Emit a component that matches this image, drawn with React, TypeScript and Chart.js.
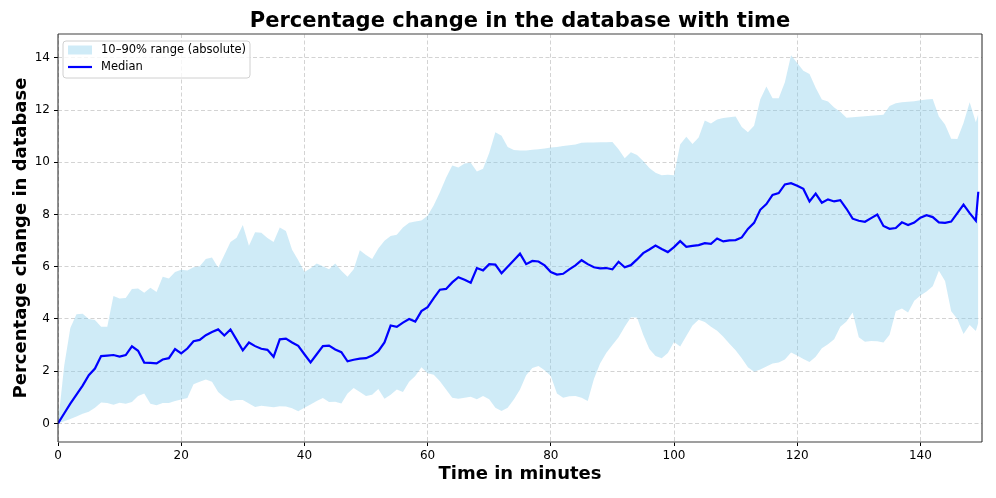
import React, { useEffect, useRef } from 'react';
import { Chart, registerables } from 'chart.js';

Chart.register(...registerables);

const chartTitle = 'Percentage change in the database with time';
const xAxisTitle = 'Time in minutes';
const yAxisTitle = 'Percentage change in database';
const bandLabel = '10–90% range (absolute)';
const medianLabel = 'Median';

const xTicks = [0, 20, 40, 60, 80, 100, 120, 140];
const yTicks = [0, 2, 4, 6, 8, 10, 12, 14];

const timeMinutes = [
  0, 1, 2, 3, 4, 5, 6, 7, 8, 9,
  10, 11, 12, 13, 14, 15, 16, 17, 18, 19,
  20, 21, 22, 23, 24, 25, 26, 27, 28, 29,
  30, 31, 32, 33, 34, 35, 36, 37, 38, 39,
  40, 41, 42, 43, 44, 45, 46, 47, 48, 49,
  50, 51, 52, 53, 54, 55, 56, 57, 58, 59,
  60, 61, 62, 63, 64, 65, 66, 67, 68, 69,
  70, 71, 72, 73, 74, 75, 76, 77, 78, 79,
  80, 81, 82, 83, 84, 85, 86, 87, 88, 89,
  90, 91, 92, 93, 94, 95, 96, 97, 98, 99,
  100, 101, 102, 103, 104, 105, 106, 107, 108, 109,
  110, 111, 112, 113, 114, 115, 116, 117, 118, 119,
  120, 121, 122, 123, 124, 125, 126, 127, 128, 129,
  130, 131, 132, 133, 134, 135, 136, 137, 138, 139,
  140, 141, 142, 143, 144, 145, 146, 147, 148, 149,
  149.4,
];

const medianValues = [
  0, 0.38, 0.76, 1.1, 1.45, 1.85, 2.1, 2.58, 2.6, 2.62,
  2.56, 2.62, 2.95, 2.78, 2.33, 2.32, 2.3, 2.45, 2.5, 2.85,
  2.68, 2.87, 3.15, 3.2, 3.38, 3.5, 3.6, 3.37, 3.6, 3.2,
  2.8, 3.1, 2.96, 2.86, 2.82, 2.55, 3.22, 3.25, 3.1, 2.97,
  2.65, 2.34, 2.65, 2.96, 2.98, 2.83, 2.73, 2.38, 2.44, 2.48,
  2.5, 2.6, 2.77, 3.1, 3.75, 3.7, 3.86, 4.0, 3.9, 4.3,
  4.45, 4.8, 5.12, 5.15, 5.4, 5.6, 5.5, 5.39, 5.95, 5.86,
  6.1, 6.08, 5.75, 6.0, 6.25, 6.5, 6.1, 6.22, 6.2, 6.05,
  5.8, 5.7, 5.73, 5.9, 6.05, 6.25, 6.1, 5.98, 5.94, 5.95,
  5.9, 6.19, 5.98, 6.06, 6.28, 6.52, 6.66, 6.81, 6.68, 6.56,
  6.75, 6.98, 6.76, 6.8, 6.83, 6.9, 6.88, 7.08, 6.97, 7.01,
  7.02, 7.12, 7.45, 7.68, 8.18, 8.4, 8.75, 8.82, 9.15, 9.2,
  9.1, 8.98, 8.5, 8.8, 8.45, 8.58, 8.5, 8.55, 8.22, 7.84,
  7.76, 7.72, 7.86, 8.0, 7.56, 7.45, 7.48, 7.7, 7.6, 7.69,
  7.88, 7.97, 7.9, 7.7, 7.68, 7.73, 8.05, 8.38, 8.05, 7.76,
  8.87,
];

const upperValues = [
  0, 2.2, 3.65, 4.18, 4.2, 4.0, 3.96, 3.7, 3.7, 4.88,
  4.78, 4.8, 5.15, 5.17, 5.0, 5.2, 5.03, 5.62, 5.55, 5.8,
  5.88, 5.86, 5.98, 6.02, 6.3, 6.35, 5.96, 6.45, 6.95, 7.11,
  7.6, 6.8, 7.32, 7.3, 7.1, 6.95, 7.5, 7.37, 6.65, 6.25,
  5.8, 5.94, 6.12, 6.02, 5.9, 6.12, 5.85, 5.62, 5.9, 6.63,
  6.45, 6.3, 6.7, 6.99, 7.18, 7.22, 7.5, 7.68, 7.73, 7.77,
  7.95, 8.35, 8.85, 9.41, 9.88, 9.8, 9.95, 9.98, 9.65, 9.75,
  10.35, 11.15, 11.01, 10.58, 10.47, 10.45, 10.45, 10.48, 10.5, 10.53,
  10.56, 10.58, 10.62, 10.65, 10.68, 10.75, 10.76, 10.76, 10.77, 10.77,
  10.78, 10.5, 10.15, 10.38, 10.28, 10.05, 9.78, 9.6, 9.5, 9.52,
  9.5, 10.68, 10.98, 10.7, 10.95, 11.6, 11.48, 11.64, 11.69, 11.72,
  11.75, 11.35, 11.15, 11.4, 12.4, 12.9, 12.45, 12.45, 13.06, 14.1,
  13.8, 13.5, 13.38, 12.85, 12.4, 12.33, 12.1, 11.93, 11.7, 11.72,
  11.74, 11.76, 11.78, 11.8, 11.82, 12.15, 12.26, 12.3, 12.32, 12.34,
  12.37, 12.4, 12.42, 11.75, 11.45, 10.9, 10.89, 11.5, 12.3, 11.53,
  11.85,
];

const lowerValues = [
  0, 0.08, 0.17, 0.27, 0.37, 0.45, 0.6, 0.8, 0.78, 0.72,
  0.79, 0.75, 0.82, 1.05, 1.15, 0.75, 0.7, 0.78, 0.78, 0.86,
  0.92, 0.97, 1.5, 1.6, 1.68, 1.6, 1.2, 1.0, 0.86, 0.9,
  0.9, 0.76, 0.63, 0.68, 0.65, 0.62, 0.66, 0.65, 0.58, 0.47,
  0.6, 0.73, 0.86, 0.97, 0.82, 0.83, 0.76, 1.15, 1.36, 1.2,
  1.05, 1.1, 1.32, 0.95, 1.1, 1.3, 1.2, 1.6, 1.82, 2.15,
  1.92, 1.86, 1.62, 1.3, 0.98, 0.95, 0.98, 1.02, 0.93, 1.05,
  0.93, 0.6, 0.48, 0.6, 0.92, 1.3, 1.85, 2.12, 2.2, 2.04,
  1.82, 1.15, 0.98, 1.04, 1.05, 0.98, 0.86, 1.7, 2.3, 2.7,
  3.0, 3.3, 3.7, 4.07, 4.06, 3.4, 2.85, 2.58, 2.5, 2.7,
  3.12, 2.95, 3.35, 3.75, 3.97, 3.88, 3.7, 3.55, 3.32, 3.05,
  2.8, 2.5, 2.15, 1.98, 2.07, 2.18, 2.3, 2.33, 2.45, 2.72,
  2.6, 2.47, 2.35, 2.55, 2.88, 3.03, 3.22, 3.7, 3.9, 4.25,
  3.3, 3.13, 3.16, 3.15, 3.1, 3.4, 4.3, 4.4, 4.25, 4.7,
  4.9, 5.05, 5.25, 5.85, 5.45, 4.3, 4.0, 3.42, 3.77, 3.54,
  3.86,
];

const FONT = "'DejaVu Sans', sans-serif";
const BAND_COLOR = 'rgba(135,206,235,0.4)';
const MEDIAN_COLOR = '#0000ff';
const GRID_COLOR = 'rgba(176,176,176,0.7)';

const spinePlugin = {
  id: 'spines',
  afterDatasetsDraw(chart: any) {
    const { ctx, chartArea } = chart;
    const { left, right, top, bottom } = chartArea;
    ctx.save();
    ctx.strokeStyle = '#808080';
    ctx.lineWidth = 1.6;
    ctx.beginPath();
    ctx.moveTo(left, top);
    ctx.lineTo(right, top);
    ctx.moveTo(left, bottom);
    ctx.lineTo(right, bottom);
    ctx.stroke();
    ctx.strokeStyle = '#222222';
    ctx.lineWidth = 1;
    ctx.beginPath();
    ctx.moveTo(left, top);
    ctx.lineTo(left, bottom);
    ctx.moveTo(right, top);
    ctx.lineTo(right, bottom);
    ctx.stroke();
    ctx.restore();
  },
};

const legendPlugin = {
  id: 'insideLegend',
  afterDraw(chart: any) {
    const { ctx, chartArea } = chart;
    const ds = chart.data.datasets;
    const x0 = chartArea.left + 5;
    const y0 = chartArea.top + 7;
    const w = 187;
    const h = 37;
    ctx.save();
    ctx.beginPath();
    if (ctx.roundRect) ctx.roundRect(x0, y0, w, h, 3);
    else ctx.rect(x0, y0, w, h);
    ctx.fillStyle = 'rgba(255,255,255,0.8)';
    ctx.fill();
    ctx.strokeStyle = '#d0d0d0';
    ctx.lineWidth = 1;
    ctx.stroke();

    ctx.fillStyle = BAND_COLOR;
    ctx.fillRect(x0 + 5, y0 + 4.5, 24, 9);
    ctx.fillStyle = '#000';
    ctx.font = `11.5px ${FONT}`;
    ctx.textBaseline = 'middle';
    ctx.textAlign = 'left';
    ctx.fillText(ds[2].label, x0 + 38, y0 + 9.5);

    ctx.strokeStyle = MEDIAN_COLOR;
    ctx.lineWidth = 2.2;
    ctx.beginPath();
    ctx.moveTo(x0 + 5, y0 + 26);
    ctx.lineTo(x0 + 29, y0 + 26);
    ctx.stroke();
    ctx.fillStyle = '#000';
    ctx.fillText(ds[0].label, x0 + 38, y0 + 26.5);
    ctx.restore();
  },
};

export default function App() {
  const canvasRef = useRef<HTMLCanvasElement | null>(null);

  useEffect(() => {
    const canvas = canvasRef.current;
    if (!canvas) return;

    const medianPts = timeMinutes.map((t, i) => ({ x: t, y: medianValues[i] }));
    const lowerPts = timeMinutes.map((t, i) => ({ x: t, y: lowerValues[i] }));
    const upperPts = timeMinutes.map((t, i) => ({ x: t, y: upperValues[i] }));

    const chart = new Chart(canvas, {
      type: 'line',
      data: {
        datasets: [
          {
            label: medianLabel,
            data: medianPts,
            borderColor: MEDIAN_COLOR,
            borderWidth: 2.2,
            pointRadius: 0,
            tension: 0,
            fill: false,
          },
          {
            label: '10% quantile',
            data: lowerPts,
            borderWidth: 0,
            borderColor: 'rgba(0,0,0,0)',
            pointRadius: 0,
            tension: 0,
            fill: false,
          },
          {
            label: bandLabel,
            data: upperPts,
            borderWidth: 0,
            borderColor: 'rgba(0,0,0,0)',
            backgroundColor: BAND_COLOR,
            pointRadius: 0,
            tension: 0,
            fill: '-1',
          },
        ],
      },
      options: {
        animation: false,
        responsive: false,
        devicePixelRatio: 1,
        layout: { padding: { left: 0, right: 14, top: 0, bottom: 0 } },
        plugins: {
          legend: { display: false },
          tooltip: { enabled: false },
          title: {
            display: true,
            text: chartTitle,
            fullSize: false,
            color: '#000',
            font: { family: FONT, size: 21, weight: 'bold' },
            padding: { top: 8.5, bottom: 0.3 },
          },
        },
        scales: {
          x: {
            type: 'linear',
            min: 0,
            max: 150,
            afterBuildTicks: (scale: any) => {
              scale.ticks = xTicks.map((v) => ({ value: v }));
            },
            afterFit: (scale: any) => {
              scale.height = 56;
            },
            grid: {
              color: GRID_COLOR,
              borderDash: [4, 2.5],
              lineWidth: 0.8,
              drawTicks: true,
              tickLength: 4,
              tickColor: '#000',
              tickWidth: 1,
              tickBorderDash: [],
            },
            border: { display: false, dash: [4, 2.5] },
            ticks: {
              color: '#000',
              font: { family: FONT, size: 12 },
              padding: 3,
              maxRotation: 0,
              autoSkip: false,
            },
            title: {
              display: true,
              text: xAxisTitle,
              color: '#000',
              font: { family: FONT, size: 18, weight: 'bold' },
              padding: { top: 0, bottom: 13 },
            },
          },
          y: {
            type: 'linear',
            min: -0.71,
            max: 14.91,
            afterBuildTicks: (scale: any) => {
              scale.ticks = yTicks.map((v) => ({ value: v }));
            },
            afterFit: (scale: any) => {
              scale.width = 58;
            },
            grid: {
              color: GRID_COLOR,
              borderDash: [4, 2.5],
              lineWidth: 0.8,
              drawTicks: true,
              tickLength: 4,
              tickColor: '#000',
              tickWidth: 1,
              tickBorderDash: [],
            },
            border: { display: false, dash: [4, 2.5] },
            ticks: {
              color: '#000',
              font: { family: FONT, size: 12 },
              padding: 4,
              autoSkip: false,
            },
            title: {
              display: true,
              text: yAxisTitle,
              color: '#000',
              font: { family: FONT, size: 18, weight: 'bold' },
              padding: { top: 11, bottom: 0 },
            },
          },
        },
      },
      plugins: [spinePlugin, legendPlugin],
    } as any);

    return () => chart.destroy();
  }, []);

  return (
    <div style={{ position: 'fixed', left: 0, top: 0, width: 996, height: 498, background: '#fff' }}>
      <canvas ref={canvasRef} width={996} height={498} style={{ width: 996, height: 498, display: 'block' }} />
    </div>
  );
}
